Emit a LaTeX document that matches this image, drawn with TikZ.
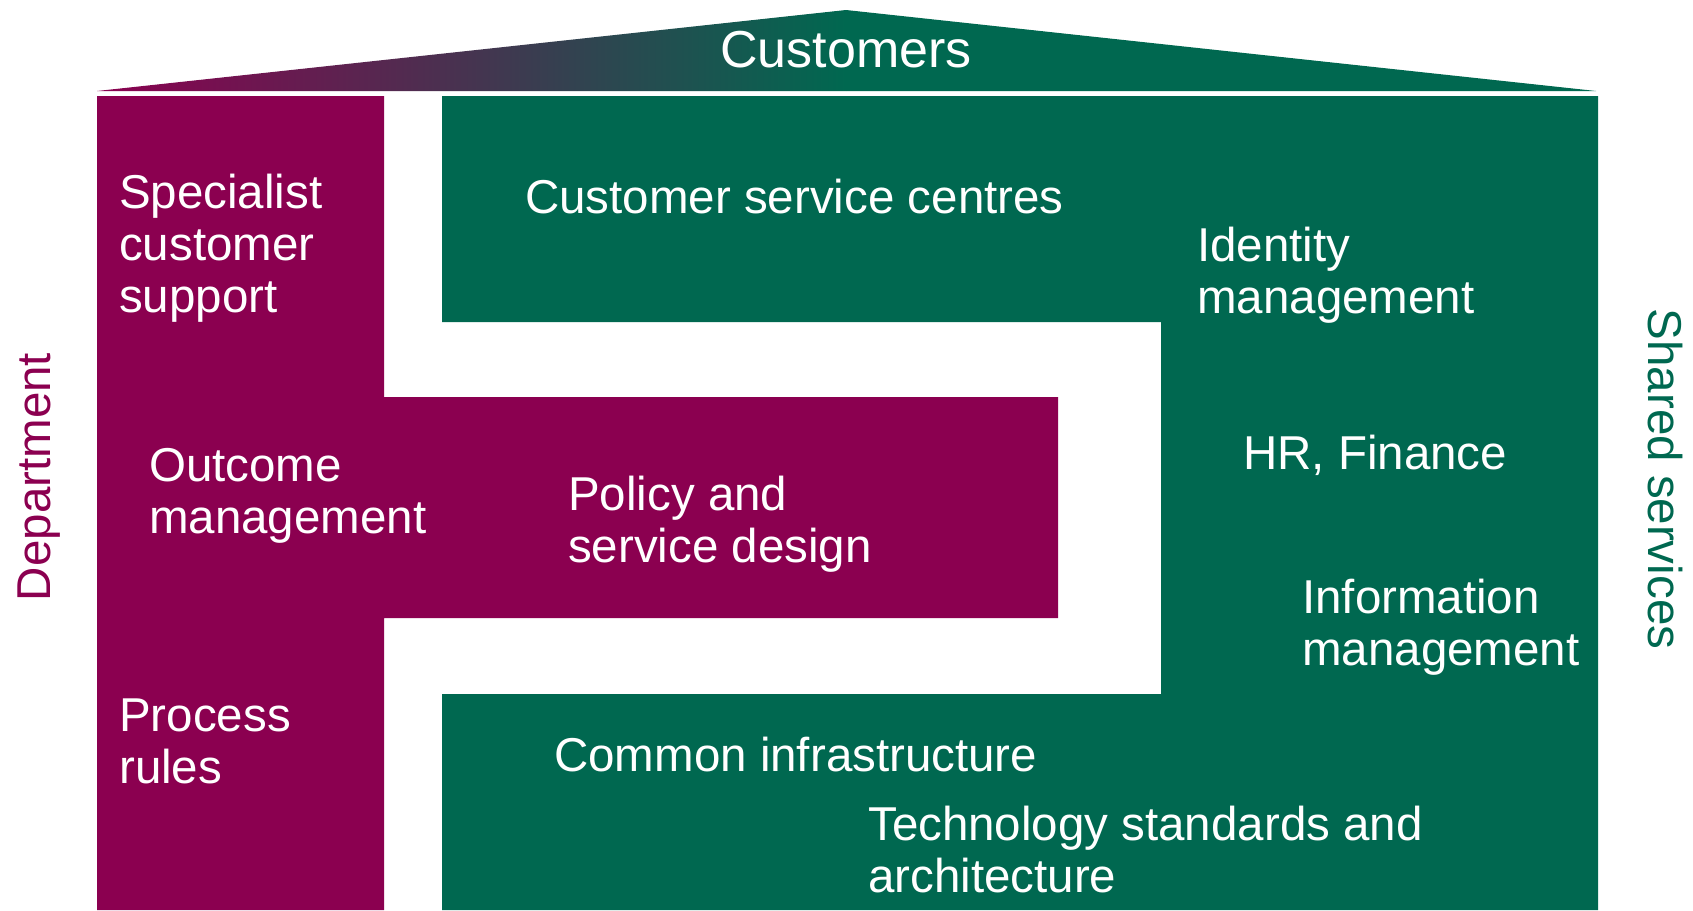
\documentclass[tikz,border=0pt]{standalone}
\usepackage{fontspec}
\setmainfont{Liberation Sans}
\definecolor{dept}{RGB}{139,0,80}
\definecolor{shared}{RGB}{0,104,80}
\definecolor{roofmid}{RGB}{78,72,74}
\begin{document}
\begin{tikzpicture}[
  x=1pt, y=-1pt,
  box text/.style={text=white, anchor=base west, align=left, inner sep=0pt,
    font=\fontsize{47.5}{52}\selectfont},
  side text/.style={inner sep=0pt, font=\fontsize{47.5}{52}\selectfont}]
\useasboundingbox (0,0) rectangle (1693,910);
\shade [left color=dept, middle color=roofmid, right color=shared]
  (97,91) -- (846,10) -- (846,91) -- cycle;
\fill [shared] (846,10) -- (1596,91) -- (846,91) -- cycle;
\fill [dept] (97,96) -- (384,96) -- (384,397) -- (1058,397) -- (1058,618) --
  (384,618) -- (384,910) -- (97,910) -- cycle;
\fill [shared] (442,96) -- (1598,96) -- (1598,910) -- (442,910) -- (442,694) --
  (1161,694) -- (1161,322) -- (442,322) -- cycle;
\node [box text] (specialist) at (119,312) {Specialist\\customer\\support};
\node [box text] (centres) at (525,213) {Customer service centres};
\node [box text] (identity) at (1197,313) {Identity\\management};
\node [box text] (outcome) at (149,533) {Outcome\\management};
\node [box text] (policy) at (568,562) {Policy and\\service design};
\node [box text] (hrfinance) at (1243,469) {HR, Finance};
\node [box text] (information) at (1302,665) {Information\\management};
\node [box text] (process) at (119,783) {Process\\rules};
\node [box text] (infrastructure) at (554,771) {Common infrastructure};
\node [box text] (technology) at (868,892) {Technology standards and\\architecture};
\node [side text, text=white, anchor=base, font=\fontsize{52}{56}\selectfont]
  (customers) at (846,67) {Customers};
\node [side text, text=dept, rotate=90] (department) at (39,477) {Department};
\node [side text, text=shared, rotate=-90] (sharedsvc) at (1665,479) {Shared services};
\end{tikzpicture}
\end{document}
